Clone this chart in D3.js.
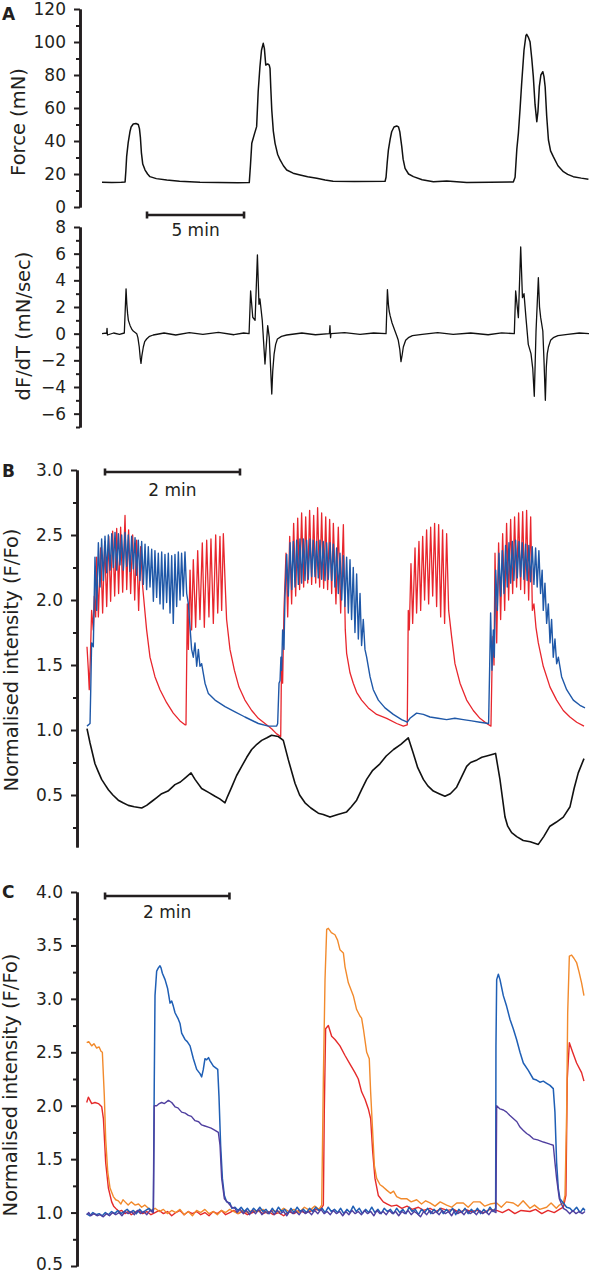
<!DOCTYPE html>
<html><head><meta charset="utf-8">
<script src="https://cdn.jsdelivr.net/npm/d3@7"></script>
<style>
body{margin:0;background:#fff}
svg text{font-family:"DejaVu Sans",sans-serif;fill:#231f20}
</style>
</head><body>
<script>
// ---------------- DATA ----------------
// Panel A: time in minutes
const forceA=[[0,15],[0.5,14.8],[1.0,15],[1.19,15.2],[1.23,22],[1.27,30.5],[1.35,39],[1.44,45.6],[1.5,48.5],[1.61,50.3],[1.75,50.6],[1.87,50],[1.93,47.5],[1.98,42],[2.03,33],[2.1,26],[2.22,22.4],[2.35,20],[2.47,18.4],[2.8,17.2],[3.34,16.4],[4,15.6],[5.05,15],[6.0,14.9],[7.0,14.7],[7.59,14.8],[7.65,25],[7.72,38.6],[7.85,44],[7.97,48.7],[8.05,70],[8.14,85],[8.22,95],[8.31,99.2],[8.37,96],[8.44,86],[8.5,86.5],[8.54,86.7],[8.62,86],[8.66,84],[8.7,72],[8.75,58.8],[8.83,46],[8.92,38.6],[9.05,32],[9.18,28.5],[9.35,25],[9.52,22.4],[9.85,20.5],[10.21,19.4],[10.6,18.3],[11.07,17.4],[11.5,16.4],[11.91,15.6],[13,15.4],[14.59,15.6],[14.64,18],[14.7,27],[14.76,34.5],[14.85,41],[14.93,45.6],[15.05,48.5],[15.19,49.1],[15.28,48.6],[15.35,45.5],[15.4,41],[15.45,36.6],[15.52,29],[15.62,23.4],[15.8,20],[16.05,18.4],[16.5,16.5],[17.08,15.3],[17.77,15.8],[18.8,14.8],[20,15],[21.2,15.2],[21.29,18],[21.38,35],[21.46,44.6],[21.55,60],[21.63,75],[21.75,95],[21.85,104],[21.89,104.6],[21.97,103],[22.06,100.2],[22.15,90],[22.23,79],[22.32,62],[22.41,51.7],[22.47,58],[22.54,72.9],[22.62,80],[22.72,82],[22.78,79],[22.84,72.9],[22.92,55],[23.01,40.6],[23.12,34],[23.26,30.5],[23.5,25],[23.78,21.4],[24.0,19.8],[24.29,18.4],[24.7,17.5],[25.07,16.8]];
const dFdtA=[[0,0],[0.24,0.05],[0.26,0.4],[0.28,-0.1],[0.6,0.05],[0.9,-0.05],[1.15,0.05],[1.24,3.36],[1.28,2.2],[1.32,1.5],[1.36,1.0],[1.45,0.6],[1.55,0.3],[1.61,0.2],[1.79,0],[1.85,-0.3],[1.92,-1],[1.97,-1.8],[2.01,-2.23],[2.05,-1.7],[2.13,-1.0],[2.2,-0.6],[2.30,-0.4],[2.45,-0.2],[2.64,-0.1],[3.2,0.05],[3.8,-0.1],[4.5,0.08],[5.2,-0.05],[6.0,0.1],[6.8,-0.08],[7.3,0.05],[7.58,0],[7.66,3.2],[7.77,1.23],[7.89,1.0],[8.01,5.9],[8.09,2.2],[8.14,2.6],[8.26,1.0],[8.40,-2.28],[8.54,0.6],[8.62,-0.28],[8.75,-4.53],[8.8,-2.8],[8.87,-1.53],[8.95,-0.8],[9.04,-0.4],[9.25,-0.2],[9.52,-0.1],[10.3,0.05],[11.0,-0.08],[11.72,0],[11.75,0.6],[11.78,-0.3],[11.8,0],[12.5,0.08],[13.3,-0.06],[14.0,0.05],[14.64,0],[14.71,3.3],[14.76,2.2],[14.8,1.7],[14.85,1.35],[14.95,0.8],[15.10,0.2],[15.2,-0.2],[15.27,-0.5],[15.35,-1.2],[15.41,-2.1],[15.47,-1.6],[15.53,-1.0],[15.65,-0.5],[15.79,-0.3],[16,-0.15],[16.5,-0.05],[17.3,0.08],[18.1,-0.06],[19.0,0.05],[19.9,-0.08],[20.6,0.06],[21.25,0],[21.32,3.2],[21.46,1.2],[21.58,6.5],[21.67,2.7],[21.75,3.0],[21.85,1.2],[21.97,-0.8],[22.11,-1.5],[22.2,-2.6],[22.28,-4.7],[22.37,0.2],[22.49,4.2],[22.55,2.0],[22.61,1.2],[22.72,0.2],[22.78,-2.0],[22.85,-5.0],[22.9,-2.5],[22.95,-1.5],[23.01,-1.0],[23.12,-0.5],[23.26,-0.3],[23.5,-0.15],[24.0,-0.05],[24.6,0.05],[25.1,0]];
const forceTicks=[0,20,40,60,80,100,120];
const forceMinor=[10,30,50,70,90,110];
const dFTicks=[-6,-4,-2,0,2,4,6,8];
const dFMinor=[-7,-5,-3,-1,1,3,5,7];

// Panel B: time in seconds
const blackB=[[0,1.01],[2.7,0.90],[7.1,0.74],[10,0.68],[13,0.62],[16,0.58],[19,0.54],[23,0.50],[27.8,0.46],[32,0.44],[36.7,0.42],[42,0.41],[48.6,0.40],[53,0.42],[57.5,0.45],[62,0.48],[66.4,0.51],[72,0.53],[78.2,0.58],[83,0.60],[87.1,0.63],[92.5,0.67],[96,0.62],[101.9,0.55],[108,0.52],[113.8,0.49],[118,0.47],[122.7,0.44],[125,0.49],[128.6,0.56],[133,0.65],[137.5,0.72],[142,0.79],[146.4,0.85],[151,0.89],[155.3,0.92],[160,0.94],[164.1,0.96],[170.1,0.95],[174.5,0.92],[179,0.77],[184.9,0.59],[189,0.50],[193.8,0.44],[199,0.40],[205.6,0.36],[210,0.35],[216,0.33],[223,0.35],[230.8,0.37],[235,0.41],[239.7,0.46],[244,0.54],[248.6,0.62],[254,0.69],[260.4,0.74],[266,0.80],[272.5,0.85],[279,0.89],[285.6,0.94],[290.1,0.82],[294,0.71],[299,0.62],[303,0.57],[307.9,0.53],[313,0.51],[318.2,0.49],[323,0.51],[328.6,0.56],[333,0.64],[337.5,0.72],[341,0.75],[346.7,0.77],[351,0.79],[355.3,0.80],[363.2,0.82],[367.1,0.62],[371.6,0.33],[374,0.26],[377.5,0.21],[382,0.18],[387.8,0.15],[394,0.14],[401.2,0.12],[406,0.18],[411.5,0.26],[417,0.29],[423.4,0.33],[429.4,0.41],[433,0.55],[436.7,0.67],[441.8,0.78]];
const redB=[[0,1.64],[1.2,1.46],[2,1.31],[3,1.56],[4.1,1.92],[5.6,1.77],[6.5,2.03],[7.7,1.87],[8.6,2.33],[10.1,1.87],[12.1,2.40],[13.9,1.90],[15.7,2.45],[17.5,1.95],[19.3,2.49],[21,1.99],[22.8,2.53],[24.6,2.03],[26.4,2.55],[28.1,2.05],[29.9,2.56],[31.7,2.06],[33.8,2.65],[35.3,2.08],[37,2.54],[38.8,2.05],[40.6,2.50],[42.4,2.00],[44.1,2.46],[45.9,1.92],[47.7,2.41],[49.5,2.10],[51.6,1.90],[53,1.77],[56,1.56],[60.4,1.41],[64.9,1.31],[70.8,1.21],[76.7,1.13],[82.7,1.07],[87.1,1.04],[88,1.04],[89.2,1.97],[90.1,1.62],[91.6,2.23],[93,1.77],[94.5,2.31],[96.6,1.79],[98.4,2.38],[100.4,1.85],[102.5,2.44],[104.3,1.79],[106.4,2.46],[108.4,1.87],[110.2,2.47],[112.3,1.82],[114.4,2.50],[116.2,1.90],[118.2,2.49],[119.7,1.92],[121.2,2.51],[122.7,2.15],[124.1,1.85],[127.1,1.62],[131,1.46],[135.1,1.33],[140.4,1.23],[146.4,1.15],[152.3,1.09],[158.2,1.05],[164.1,1.01],[168.6,0.97],[172.2,0.95],[173,1.56],[173.9,1.36],[175.1,1.92],[176.9,2.36],[178.4,1.87],[180.2,2.49],[181.9,1.97],[183.7,2.59],[185.5,2.03],[187.3,2.63],[189,2.08],[190.8,2.67],[192.6,2.10],[194.4,2.64],[196.2,2.13],[197.9,2.69],[199.7,2.12],[201.5,2.65],[203.3,2.13],[205,2.71],[206.8,2.10],[208.6,2.67],[210.4,2.09],[212.2,2.64],[213.9,2.08],[215.7,2.62],[217.5,2.05],[219,2.59],[221.3,1.97],[223.4,2.56],[225.5,1.90],[227.9,2.58],[229.6,1.77],[230.8,1.59],[233.8,1.44],[236.7,1.36],[239.7,1.29],[244.1,1.23],[250.1,1.17],[257.5,1.12],[266.4,1.09],[275.3,1.05],[281.2,1.03],[284.7,1.04],[285.6,1.92],[286.5,1.77],[288,2.28],[289.5,1.82],[291.6,2.40],[293,1.90],[295.1,2.45],[296.6,1.92],[298.4,2.49],[300.1,2.00],[301.9,2.54],[303.7,1.97],[305.5,2.56],[307.3,2.03],[309,2.59],[310.8,1.95],[312.6,2.58],[314.4,1.87],[316.1,2.54],[317.9,1.82],[319.7,2.51],[321.5,1.92],[324.1,1.72],[327.1,1.51],[331.6,1.36],[337.5,1.23],[343.4,1.15],[349.3,1.09],[355.3,1.05],[359.1,1.03],[360,1.46],[360.9,1.72],[361.8,1.50],[362.7,2.36],[364.2,1.67],[365.9,2.44],[367.7,1.85],[369.5,2.51],[371.3,1.92],[373,2.59],[374.8,2.00],[376.6,2.62],[378.4,2.05],[380.1,2.64],[381.9,2.10],[383.7,2.67],[385.5,2.08],[387.3,2.68],[389,2.05],[390.8,2.69],[392.6,2.00],[394.4,2.64],[395.9,1.92],[397.3,1.97],[399.1,1.79],[401.2,1.67],[405.6,1.49],[411.6,1.33],[417.5,1.23],[423.4,1.15],[429.3,1.10],[435.3,1.06],[441.8,1.03]];
const blueB=[[0,1.03],[2.7,1.05],[3.3,1.30],[4.1,1.67],[5.6,1.64],[7.1,2.33],[8.6,1.92],[10.1,2.44],[11.6,2.10],[13,2.47],[14.5,2.15],[16,2.49],[17.5,2.21],[19,2.50],[20.5,2.23],[22,2.51],[23.4,2.25],[24.9,2.52],[26.4,2.23],[27.9,2.51],[29.3,2.27],[30.8,2.50],[32.3,2.23],[33.8,2.52],[35.3,2.26],[36.7,2.50],[38.2,2.22],[39.7,2.49],[41.2,2.24],[42.7,2.48],[44.1,2.19],[45.6,2.46],[47.1,2.15],[48.6,2.45],[50.1,2.12],[51.6,2.43],[53,2.08],[54.5,2.41],[56,2.10],[57.5,2.39],[59,1.99],[60.4,2.38],[61.9,2.02],[63.4,2.36],[64.9,1.97],[66.4,2.37],[67.8,1.93],[69.3,2.35],[70.8,1.98],[72.3,2.36],[73.8,1.90],[75.3,2.34],[76.7,1.82],[78.2,2.35],[79.7,1.95],[81.2,2.37],[82.7,2.00],[84.1,2.36],[85.6,2.03],[87.1,2.37],[88.6,2.05],[90.1,1.97],[91.6,1.79],[93,1.62],[94.5,1.56],[96,1.67],[97.5,1.49],[99,1.62],[100.4,1.49],[101.9,1.51],[104.9,1.36],[107.9,1.28],[113.8,1.23],[122.7,1.18],[131.6,1.14],[140.4,1.10],[152.3,1.05],[161.2,1.03],[168.6,1.03],[169.5,1.05],[170.7,1.36],[171.6,1.38],[172.4,1.56],[173,1.46],[173.9,1.77],[175.1,1.62],[176,2.03],[177.5,2.35],[179,2.03],[180.5,2.44],[182,2.08],[183.4,2.45],[184.9,2.10],[186.4,2.46],[187.9,2.12],[189.3,2.47],[190.8,2.13],[192.3,2.47],[193.8,2.15],[195.2,2.46],[196.7,2.16],[198.2,2.47],[199.7,2.18],[201.1,2.46],[202.7,2.18],[204.1,2.45],[205.6,2.17],[207.1,2.46],[208.6,2.16],[210,2.45],[211.6,2.15],[213,2.44],[214.5,2.16],[216,2.44],[217.5,2.15],[219,2.43],[220.4,2.10],[221.9,2.40],[223.4,2.05],[224.9,2.36],[226.4,2.00],[227.9,2.34],[229.3,1.95],[230.8,2.33],[232.3,1.90],[233.8,2.31],[235.2,1.85],[236.7,2.25],[238.2,1.75],[239.7,2.20],[241.2,1.70],[242.7,2.05],[244.1,1.65],[245.6,1.85],[247.1,1.62],[248.6,1.56],[251.6,1.41],[254.5,1.31],[259,1.23],[264.9,1.17],[272.3,1.12],[279.7,1.08],[284.7,1.06],[287.1,1.09],[293,1.13],[299,1.12],[304.9,1.10],[312,1.09],[319.7,1.08],[327,1.09],[334.5,1.08],[342,1.07],[349.3,1.06],[357,1.05],[357.9,1.46],[358.8,1.90],[360,1.46],[361.2,1.77],[362.1,1.56],[363.3,2.23],[364.8,1.92],[366.2,2.36],[367.7,2.03],[369.2,2.38],[370.7,2.05],[372.1,2.42],[373.6,2.10],[375.1,2.44],[376.6,2.13],[378.1,2.45],[379.5,2.15],[381,2.46],[382.5,2.17],[384,2.45],[385.4,2.18],[386.9,2.44],[388.4,2.16],[389.9,2.43],[391.3,2.15],[392.8,2.42],[394.3,2.14],[395.8,2.41],[397.3,2.12],[398.8,2.40],[400.2,2.10],[401.7,2.38],[403.2,2.05],[404.6,2.23],[405.6,1.92],[407.1,2.13],[408.6,1.82],[410.1,1.97],[411.6,1.67],[413,1.85],[414.5,1.56],[416,1.70],[417.5,1.51],[419,1.56],[421.9,1.41],[426.4,1.31],[432.3,1.23],[438.2,1.19],[442.7,1.17]];
const ticksB=[0.5,1.0,1.5,2.0,2.5,3.0];
const minorB=[0.25,0.75,1.25,1.75,2.25,2.75];

// Panel C: time in seconds
const redC=[[0,2.03],[1.6,2.08],[4.8,2.02],[8,2.03],[11.3,2.02],[14.5,1.99],[16.1,1.88],[18.3,1.47],[20.9,1.23],[24.1,1.10],[26,1.06],[28.9,1.03],[31,1.01],[33.8,1.02],[37,0.99],[40,1.01],[43,0.98],[46,1.00],[50,1.02],[54,0.99],[58,1.01],[62,0.98],[66,1.00],[70,1.02],[74,0.99],[78,1.01],[82,0.97],[86,1.00],[90,1.02],[94,0.98],[98,1.01],[102,0.99],[106,1.01],[110,0.98],[114,1.00],[118,0.97],[122,1.01],[126,0.99],[130,1.02],[134,0.98],[138,1.00],[142,1.02],[146,0.99],[150,1.01],[155,0.98],[160,1.00],[165,1.02],[170,0.99],[175,1.01],[180,0.98],[185,1.00],[190,0.97],[195,1.01],[200,0.99],[205,1.02],[210,1.00],[215,1.01],[220,1.03],[225,1.02],[228.3,1.07],[229.2,1.94],[230.5,2.72],[233.1,2.75],[236.3,2.65],[239.5,2.62],[244.3,2.56],[249.2,2.47],[254,2.39],[258.8,2.31],[262,2.25],[265.2,2.13],[268.5,2.06],[271.7,1.97],[273.9,1.88],[275.9,1.57],[278.1,1.32],[281.3,1.16],[286.1,1.10],[290,1.08],[294,1.06],[299,1.07],[304,1.04],[309,1.06],[314,1.03],[320,1.05],[325,1.02],[331.2,1.04],[337,1.01],[342,1.04],[348,1.02],[354,1.03],[360,1.00],[365,1.03],[371,1.01],[377,1.02],[383,1.00],[389,1.03],[395.5,1.02],[401,1.00],[407,1.03],[413,0.99],[419,1.02],[427.6,1.01],[433,1.03],[439,0.99],[445,1.02],[451,1.00],[456,1.03],[459.8,1.05],[462.3,1.16],[463.6,2.25],[465.6,2.59],[468.8,2.50],[472.6,2.40],[477.4,2.31],[479.7,2.23]];
const orangeC=[[0,2.59],[2,2.60],[4.8,2.56],[7,2.58],[9.6,2.54],[12,2.55],[13.8,2.51],[15.1,2.50],[17,2.09],[18.3,1.69],[20.3,1.38],[22.5,1.23],[25.7,1.15],[28,1.12],[30.5,1.11],[33,1.08],[35,1.12],[37,1.10],[40,1.07],[43,1.10],[46.6,1.07],[50,1.08],[53,1.05],[56,1.07],[59.5,1.04],[62.7,1.02],[66,1.04],[70,1.01],[74,1.03],[78,0.99],[82,1.02],[86,1.00],[90,1.03],[94,0.98],[98,1.01],[102,0.97],[106,1.02],[110,1.00],[114,1.03],[118,0.99],[122,1.01],[126,0.98],[130,1.02],[134,1.00],[138,1.03],[142,1.01],[146,0.99],[150,1.02],[155,1.00],[160,1.02],[165,1.01],[170,1.03],[175,0.99],[180,1.02],[185,1.00],[190,1.04],[195,1.01],[200,1.03],[205,1.00],[210,1.05],[215,1.02],[220,1.06],[224,1.03],[226.7,1.07],[228.3,2.25],[229.9,3.18],[231.5,3.65],[233.1,3.66],[236,3.62],[239.5,3.60],[242,3.55],[244.3,3.46],[247.6,3.43],[249.2,3.30],[252.4,3.15],[257.2,3.03],[260.4,2.90],[263.6,2.84],[265.2,2.82],[266.9,2.72],[270.1,2.50],[272.6,2.44],[273.9,2.13],[275.9,1.75],[277.5,1.44],[279.7,1.32],[283,1.26],[286,1.24],[289.4,1.21],[293,1.18],[296,1.20],[299,1.15],[303,1.13],[308.6,1.13],[313,1.10],[318.3,1.12],[323,1.08],[327,1.11],[331.2,1.09],[336,1.06],[341,1.10],[347.2,1.07],[352,1.05],[357,1.09],[363.3,1.09],[368,1.05],[373,1.10],[379.4,1.10],[384,1.06],[389,1.08],[395.5,1.09],[400,1.05],[405,1.10],[411.5,1.09],[416,1.06],[421,1.11],[427.6,1.04],[432,1.07],[437,1.03],[443.7,1.05],[448,1.09],[453,1.04],[456,1.07],[459.8,1.09],[461.4,1.16],[463,1.94],[464,2.87],[465.6,3.40],[467.8,3.41],[470,3.38],[472.6,3.34],[475,3.25],[477.4,3.15],[479.7,3.03]];
const blueC=[[0,0.99],[3,0.97],[6,1.00],[9,0.98],[12,0.99],[15,0.97],[18,1.00],[21,0.98],[24,1.01],[27,0.99],[30,1.02],[33,0.99],[36,1.01],[39,1.03],[42,1.00],[45,1.02],[48,0.99],[51,1.03],[54,1.00],[57,1.02],[60,1.04],[63,1.01],[64.3,1.04],[65.2,2.25],[65.9,3.03],[67.5,3.26],[69.1,3.29],[70.7,3.31],[71.7,3.29],[73,3.24],[75.6,3.18],[78,3.10],[80.4,2.96],[82,2.98],[83.6,2.93],[85.2,2.87],[88.4,2.81],[90,2.77],[91.6,2.68],[94.8,2.62],[97,2.60],[99.7,2.56],[102.9,2.44],[106.1,2.34],[109.3,2.30],[110.9,2.27],[112.5,2.34],[114.1,2.44],[115.7,2.43],[117.5,2.45],[119,2.42],[122.2,2.37],[126.4,2.34],[127.6,2.09],[129.2,1.63],[130.9,1.32],[132.8,1.16],[135,1.10],[138.2,1.09],[140,1.04],[143.1,1.05],[146,1.02],[149,1.05],[152,1.01],[155,1.04],[158,1.00],[161,1.04],[164,1.01],[167,1.05],[170,1.01],[173,1.03],[176,0.99],[179,1.04],[182,1.00],[185,1.05],[188,1.01],[191,1.03],[194,0.99],[197,1.04],[200,1.00],[203,1.05],[206,1.01],[209,1.03],[212,1.00],[215,1.04],[218,1.01],[221,1.05],[224,1.02],[227,1.04],[230,1.00],[233,1.05],[236,1.01],[239,1.03],[242,1.00],[245,1.04],[248,0.99],[251,1.03],[254,1.00],[257,1.06],[260,1.01],[263,1.04],[266,0.99],[269,1.03],[272,1.00],[275,1.05],[278,1.00],[281,1.03],[284,0.99],[287,1.04],[290,1.01],[293,1.03],[296,0.99],[299,1.04],[302,1.00],[305,1.03],[308,0.99],[311,1.05],[314,1.01],[317,1.03],[320,0.98],[323,1.03],[326,1.00],[329,1.04],[332,0.99],[335,1.03],[338,1.00],[341,1.04],[344,0.99],[347,1.03],[350,1.00],[353,1.04],[356,0.98],[359,1.03],[362,1.00],[365,1.04],[368,0.99],[371,1.03],[374,1.00],[377,1.04],[380,0.99],[383,1.03],[386,1.00],[389,1.05],[392,1.01],[394.5,1.04],[394.8,2.56],[395.5,3.18],[397.1,3.23],[398.7,3.18],[401.9,3.03],[405.1,2.93],[408.3,2.81],[411.5,2.72],[414.7,2.62],[418,2.50],[421.2,2.40],[426,2.33],[430.8,2.25],[434,2.24],[437.2,2.22],[440.5,2.23],[443.7,2.21],[446.9,2.19],[450.1,2.16],[451.7,1.94],[453.3,1.47],[454.9,1.23],[456.5,1.13],[459.8,1.09],[463,1.05],[466.2,1.04],[469,1.01],[472.6,1.05],[476,1.00],[479,1.04],[480.7,1.02]];
const purpleC=[[0,0.98],[2,1.00],[4,0.97],[7,0.99],[10,0.97],[13,0.98],[16,0.96],[19,0.99],[22,0.97],[25,1.00],[28,0.98],[31,1.00],[34,0.97],[37,1.01],[40,0.99],[43,1.01],[46,0.98],[49,1.02],[52,0.99],[55,1.01],[58,0.98],[61,1.02],[64.3,1.00],[65.2,2.00],[67.5,2.00],[70,2.02],[72.3,2.03],[75,2.02],[78.8,2.05],[82,2.03],[85.2,1.99],[88,1.98],[91.6,1.94],[95,1.93],[98.1,1.91],[101,1.90],[104.5,1.86],[108,1.85],[110.9,1.82],[114,1.81],[117.3,1.80],[120,1.79],[123.8,1.77],[127,1.75],[128.6,1.63],[130.2,1.32],[132.8,1.13],[136.6,1.09],[140,1.05],[143.1,1.04],[145,1.00],[148,1.03],[151,0.99],[154,1.02],[157,0.98],[160,1.02],[163,0.99],[166,1.03],[169,0.98],[172,1.01],[175,0.99],[178,1.02],[181,0.98],[184,1.02],[187,0.99],[190,1.01],[193,0.97],[196,1.02],[199,0.99],[202,1.01],[205,0.98],[208,1.02],[211,0.99],[214,1.01],[217,0.98],[220,1.02],[223,0.99],[226,1.03],[229,0.99],[232,1.01],[235,0.98],[238,1.02],[241,0.99],[244,1.01],[247,0.97],[250,1.01],[253,0.98],[256,1.02],[259,0.99],[262,1.01],[265,0.98],[268,1.02],[271,0.99],[274,1.01],[277,0.97],[280,1.02],[283,0.99],[286,1.01],[289,0.98],[292,1.02],[295,0.99],[298,1.01],[301,0.97],[304,1.01],[307,0.99],[310,1.02],[313,0.98],[316,1.01],[319,0.99],[322,0.96],[325,1.01],[328,0.98],[331,1.02],[334,0.99],[337,1.01],[340,0.98],[343,1.02],[346,0.99],[349,1.01],[352,0.97],[355,1.02],[358,0.99],[361,1.01],[364,0.98],[367,1.02],[370,0.99],[373,1.01],[376,0.98],[379,1.02],[382,0.99],[385,1.01],[388,0.98],[391,1.02],[394.8,1.00],[395.5,2.00],[398.7,1.97],[402,1.96],[405.1,1.94],[408,1.91],[411.5,1.88],[415,1.85],[418,1.80],[421,1.77],[424.4,1.74],[427.6,1.72],[430.8,1.69],[435,1.68],[440.5,1.66],[444,1.65],[446.9,1.64],[450.1,1.63],[451.7,1.47],[453.3,1.32],[455.9,1.13],[459.8,1.04],[463,1.02],[466,0.99],[469,1.02],[472,0.99],[475,1.01],[478,0.99],[480.7,1.01]];
const ticksC=[0.5,1.0,1.5,2.0,2.5,3.0,3.5,4.0];
const minorC=[0.75,1.25,1.75,2.25,2.75,3.25,3.75];

// scale bars [start, length] in panel time units
const barA=[2.32,5];   // minutes
const barB=[16,120];   // seconds
const barC=[17.7,120]; // seconds

// ---------------- DRAWING ----------------
const svg=d3.select('body').append('svg').attr('width',589).attr('height',1274);

const xA=d3.scaleLinear().domain([0,25.1]).range([102,589]);
const yF=d3.scaleLinear().domain([0,120]).range([207,9]);
const yD=d3.scaleLinear().domain([-7,8]).range([427,227]);
const xB=d3.scaleLinear().domain([0,442.7]).range([87,585]);
const yB=d3.scaleLinear().domain([0.1,3.0]).range([847,470]);
const xC=d3.scaleLinear().domain([0,480.7]).range([86.7,585]);
const yC=d3.scaleLinear().domain([0.5,4.0]).range([1266,892]);

const INK='#231f20';

function axis(x,scale,majors,minors,fmt){
  const g1=svg.append('g').attr('transform',`translate(${x},0)`)
    .call(d3.axisLeft(scale).tickValues(minors).tickSize(4).tickSizeOuter(0).tickFormat(''));
  const g2=svg.append('g').attr('transform',`translate(${x},0)`)
    .call(d3.axisLeft(scale).tickValues(majors).tickSize(6).tickPadding(8).tickSizeOuter(0).tickFormat(fmt));
  [g1,g2].forEach(g=>{
    g.select('.domain').attr('stroke',INK).attr('stroke-width',2.6);
    g.selectAll('.tick line').attr('stroke',INK).attr('stroke-width',2);
    g.selectAll('.tick text').attr('font-size',17).attr('font-family','"DejaVu Sans",sans-serif').attr('fill',INK);
  });
  return g2;
}
axis(80,yF,forceTicks,forceMinor,d3.format('d'));
axis(80,yD,dFTicks,dFMinor,d3.format('d'));
axis(77,yB,ticksB,minorB,d3.format('.1f'));
const gC=axis(77,yC,ticksC,minorC,d3.format('.1f'));
gC.selectAll('.tick text').filter(d=>d===0.5).attr('dy','0.2em');

function trace(data,x,y,color,w){
  svg.append('path').datum(data)
    .attr('fill','none').attr('stroke',color).attr('stroke-width',w||1.4)
    .attr('stroke-linejoin','round')
    .attr('d',d3.line().x(d=>x(d[0])).y(d=>y(d[1])));
}
trace(forceA,xA,yF,'#111',1.5);
trace(dFdtA,xA,yD,'#111',1.3);
trace(blackB,xB,yB,'#111',1.6);
trace(redB,xB,yB,'#e8262d',1.3);
trace(blueB,xB,yB,'#1f58a8',1.4);
trace(redC,xC,yC,'#e52a2a',1.4);
trace(orangeC,xC,yC,'#f28a2c',1.4);
trace(blueC,xC,yC,'#1f5fb5',1.5);
trace(purpleC,xC,yC,'#4f3f9f',1.4);

function scaleBar(bar,x,yPos,label,labelY){
  const x1=x(bar[0]),x2=x(bar[0]+bar[1]);
  svg.append('line').attr('x1',x1).attr('x2',x2).attr('y1',yPos).attr('y2',yPos)
    .attr('stroke',INK).attr('stroke-width',2.6);
  [x1,x2].forEach(xx=>svg.append('line').attr('x1',xx).attr('x2',xx).attr('y1',yPos-3.5).attr('y2',yPos+3.5)
    .attr('stroke',INK).attr('stroke-width',2.6));
  svg.append('text').attr('x',(x1+x2)/2).attr('y',labelY).attr('text-anchor','middle')
    .attr('font-size',17).text(label);
}
scaleBar(barA,xA,215,'5 min',236);
scaleBar(barB,xB,472,'2 min',496);
scaleBar(barC,xC,896,'2 min',918);

function vTitle(text,x,y){
  svg.append('text').attr('transform',`translate(${x},${y}) rotate(-90)`)
    .attr('text-anchor','middle').attr('font-size',19.5).text(text);
}
vTitle('Force (mN)',25,122);
vTitle('dF/dT (mN/sec)',30,326);
vTitle('Normalised intensity (F/Fo)',18,660);
vTitle('Normalised intensity (F/Fo)',17,1085);

[['A',20],['B',477],['C',898]].forEach(([t,y])=>{
  svg.append('text').attr('x',2).attr('y',y).attr('font-size',17).attr('font-weight','bold').text(t);
});
</script>
</body></html>
